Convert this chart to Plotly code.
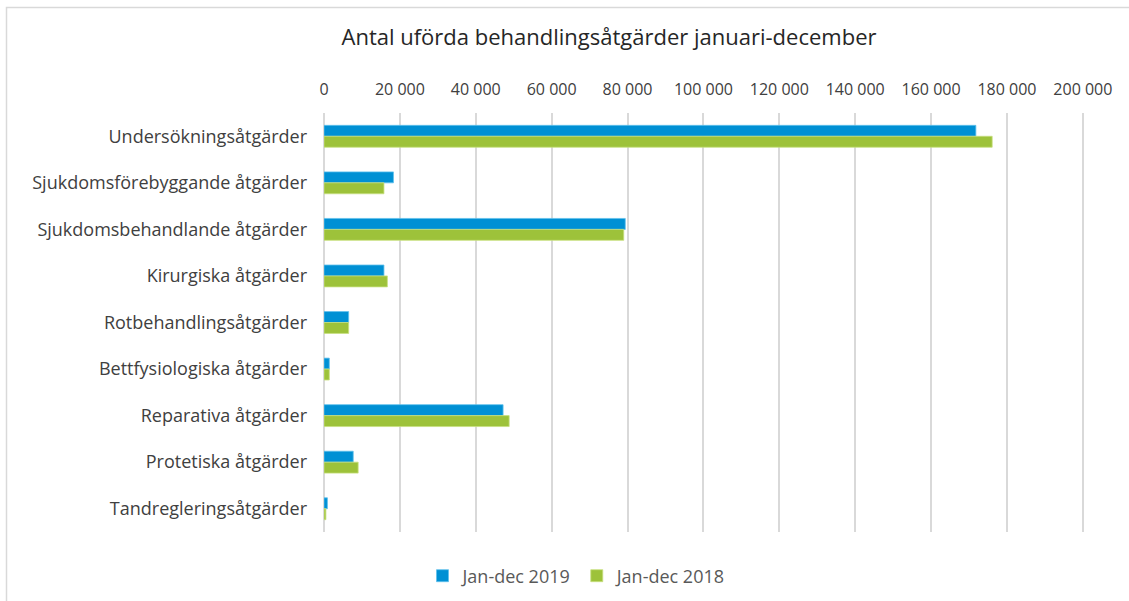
import plotly.graph_objects as go

categories = [
    "Undersökningsåtgärder",
    "Sjukdomsförebyggande åtgärder",
    "Sjukdomsbehandlande åtgärder",
    "Kirurgiska åtgärder",
    "Rotbehandlingsåtgärder",
    "Bettfysiologiska åtgärder",
    "Reparativa åtgärder",
    "Protetiska åtgärder",
    "Tandregleringsåtgärder",
]
values_2019 = [171800, 18300, 79400, 15800, 6500, 1400, 47200, 7700, 900]
values_2018 = [176100, 15800, 79000, 16700, 6500, 1400, 48800, 9000, 500]
tick_vals = [0, 20000, 40000, 60000, 80000, 100000, 120000, 140000, 160000, 180000, 200000]

W, H = 1129, 601
L, R, T, B = 324, 1084, 113, 532

def px(x):
    return (x - L) / (R - L)

def py(y):
    return (B - y) / (B - T)

fig = go.Figure()
fig.add_trace(go.Bar(y=categories, x=values_2019, orientation="h", name="Jan-dec 2019",
                     marker=dict(color="#0090d4", line=dict(color="#5fc0ec", width=0.8))))
fig.add_trace(go.Bar(y=categories, x=values_2018, orientation="h", name="Jan-dec 2018",
                     marker=dict(color="#9dc23a", line=dict(color="#c8e07f", width=0.8))))

fig.update_layout(
    width=W, height=H,
    margin=dict(l=L, r=W - R, t=T, b=H - B, autoexpand=False),
    paper_bgcolor="white", plot_bgcolor="white",
    barmode="group", bargap=0.53, bargroupgap=0,
    separators=", ",
    font=dict(family="Open Sans", color="#404040"),
    title=dict(text="Antal uförda behandlingsåtgärder januari-december",
               x=px(609), xref="paper", xanchor="center",
               y=1 - 37 / H, yanchor="middle", automargin=False,
               font=dict(family="Open Sans", size=22, color="#262626")),
    legend=dict(orientation="h", x=px(577), xanchor="center", y=py(576), yanchor="middle",
                font=dict(size=18, color="#595959"), traceorder="normal"),
    xaxis=dict(side="top", range=[0, 200300], tickvals=tick_vals, tickformat=",d",
               automargin=False,
               showgrid=True, gridcolor="#d9d9d9", gridwidth=1.5,
               zeroline=True, zerolinecolor="#d9d9d9", zerolinewidth=1.5,
               showline=False, ticks="", ticklabelstandoff=14,
               tickfont=dict(size=16, color="#404040")),
    yaxis=dict(autorange="reversed", showgrid=False, showline=False, ticks="",
               automargin=False,
               ticklabelstandoff=16, tickfont=dict(size=18, color="#404040")),
    shapes=[dict(type="rect", xref="paper", yref="paper",
                 x0=px(6.5), x1=px(1140), y0=py(7.5), y1=py(620),
                 line=dict(color="#d9d9d9", width=1.5), layer="below")],
)

fig.write_html("out.html", config={"displayModeBar": False},
               post_script="document.body.style.margin='0';")
